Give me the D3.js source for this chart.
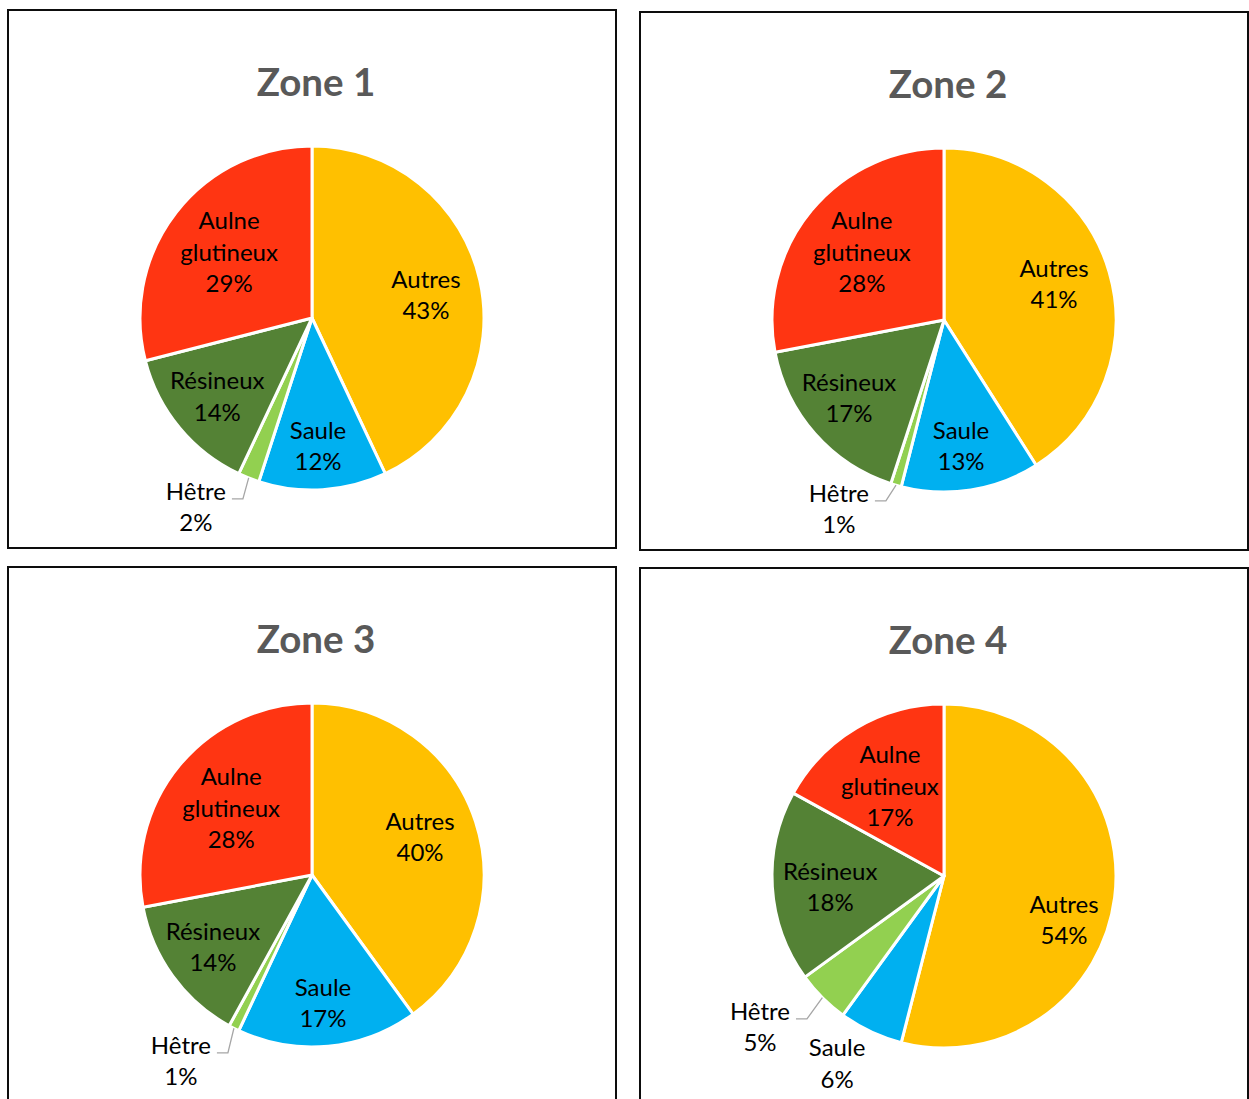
<!DOCTYPE html>
<html>
<head>
<meta charset="utf-8">
<script src="https://cdn.jsdelivr.net/npm/d3@7/dist/d3.min.js"></script>
<style>
  html, body { margin: 0; padding: 0; background: #ffffff; }
  svg { display: block; }
</style>
</head>
<body>
<svg id="chart" width="1249" height="1099"></svg>
<script>
// Species shares per zone (%), in clockwise order from 12 o'clock
const categories = ["Autres", "Saule", "Hêtre", "Résineux", "Aulne glutineux"];
const zoneTitles = ["Zone 1", "Zone 2", "Zone 3", "Zone 4"];
const zone1 = [43, 12, 2, 14, 29];
const zone2 = [41, 13, 1, 17, 28];
const zone3 = [40, 17, 1, 14, 28];
const zone4 = [54, 6, 5, 18, 17];
const zoneValues = [zone1, zone2, zone3, zone4];

const colors = ["#FFC000", "#00B0F0", "#92D050", "#548235", "#FF3512"];

// Panel frames (top-left corners) and shared geometry
const panelOrigins = [[8, 10], [640, 12], [8, 567], [640, 568]];
const panelW = 608, panelH = 538;
const pieOffset = [304, 308];
const radius = 172;

// Data label placement: "in" = inside slice, "leader" = outside with leader line,
// "out" = outside without leader. k = radial distance / radius, s = angular shift in degrees.
const labelLayout = [
  [{t: "in", k: 0.676, s: 1.2}, {t: "in", k: 0.745, s: 0.9}, {t: "leader", k: 1.126, s: -0.7}, {t: "in", k: 0.715, s: 0}, {t: "in", k: 0.616, s: 0.7}],
  [{t: "in", k: 0.673, s: -1.9}, {t: "in", k: 0.739, s: 1.3}, {t: "leader", k: 1.105, s: 1.6}, {t: "in", k: 0.715, s: 2}, {t: "in", k: 0.62, s: 0}],
  [{t: "in", k: 0.666, s: -1.4}, {t: "in", k: 0.747, s: 0.5}, {t: "leader", k: 1.144, s: -1.7}, {t: "in", k: 0.712, s: 0}, {t: "in", k: 0.61, s: 0}],
  [{t: "in", k: 0.743, s: 12.9}, {t: "out", k: 1.255, s: 4.5}, {t: "leader", k: 1.151, s: -1.2}, {t: "in", k: 0.665, s: -1.8}, {t: "in", k: 0.61, s: -0.4}]
];

const FONT = "Lato, 'Open Sans', sans-serif";
const labelSize = 24;
const lineH = 31.5;
const capHalf = labelSize * 0.358;

const svg = d3.select("#chart");
const pie = d3.pie().sort(null).value(d => d);
const arc = d3.arc().innerRadius(0).outerRadius(radius);

function polar(angle, r) {
  return [r * Math.sin(angle), -r * Math.cos(angle)];
}

zoneValues.forEach((vals, zi) => {
  const [ox, oy] = panelOrigins[zi];
  const panel = svg.append("g").attr("transform", `translate(${ox},${oy})`);

  panel.append("rect")
    .attr("x", 0).attr("y", 0)
    .attr("width", panelW).attr("height", panelH)
    .attr("fill", "#ffffff")
    .attr("stroke", "#0d0d0d")
    .attr("stroke-width", 2);

  panel.append("text")
    .attr("x", panelW / 2 + 4)
    .attr("y", 86)
    .attr("text-anchor", "middle")
    .attr("font-family", FONT)
    .attr("font-weight", "bold")
    .attr("font-size", 38.5)
    .attr("fill", "#595959")
    .text(zoneTitles[zi]);

  const g = panel.append("g").attr("transform", `translate(${pieOffset[0]},${pieOffset[1]})`);
  const arcs = pie(vals);

  g.selectAll("path.slice")
    .data(arcs)
    .join("path")
    .attr("class", "slice")
    .attr("d", arc)
    .attr("fill", (d, i) => colors[i])
    .attr("stroke", "#ffffff")
    .attr("stroke-width", 3)
    .attr("stroke-linejoin", "round");

  const labels = g.append("g");
  arcs.forEach((d, i) => {
    const spec = labelLayout[zi][i];
    const mid = (d.startAngle + d.endAngle) / 2 + spec.s * Math.PI / 180;
    const name = categories[i];
    const lines = name === "Aulne glutineux" ? ["Aulne", "glutineux"] : [name];
    lines.push(d.data + "%");

    const txt = labels.append("text")
      .attr("font-family", FONT)
      .attr("font-size", labelSize)
      .attr("fill", "#000000")
      .attr("text-anchor", "middle");

    if (spec.t === "leader") {
      const outer = polar((d.startAngle + d.endAngle) / 2, radius);
      const knee = polar(mid, radius * spec.k);
      const end = [knee[0] - 11, knee[1]];
      labels.append("polyline")
        .attr("points", [outer, knee, end].map(p => p.join(",")).join(" "))
        .attr("fill", "none")
        .attr("stroke", "#A6A6A6")
        .attr("stroke-width", 1.3);
      lines.forEach((ln, li) => {
        txt.append("tspan").attr("y", knee[1] + 1 + li * lineH).text(ln);
      });
      const w = txt.select("tspan").node().getComputedTextLength();
      const cx = end[0] - 6 - w / 2;
      txt.selectAll("tspan").attr("x", cx);
    } else {
      const [cx, cy] = polar(mid, radius * spec.k);
      const n = lines.length;
      lines.forEach((ln, li) => {
        txt.append("tspan")
          .attr("x", cx)
          .attr("y", cy + (li - (n - 1) / 2) * lineH + capHalf)
          .text(ln);
      });
    }
  });
});
</script>
</body>
</html>
